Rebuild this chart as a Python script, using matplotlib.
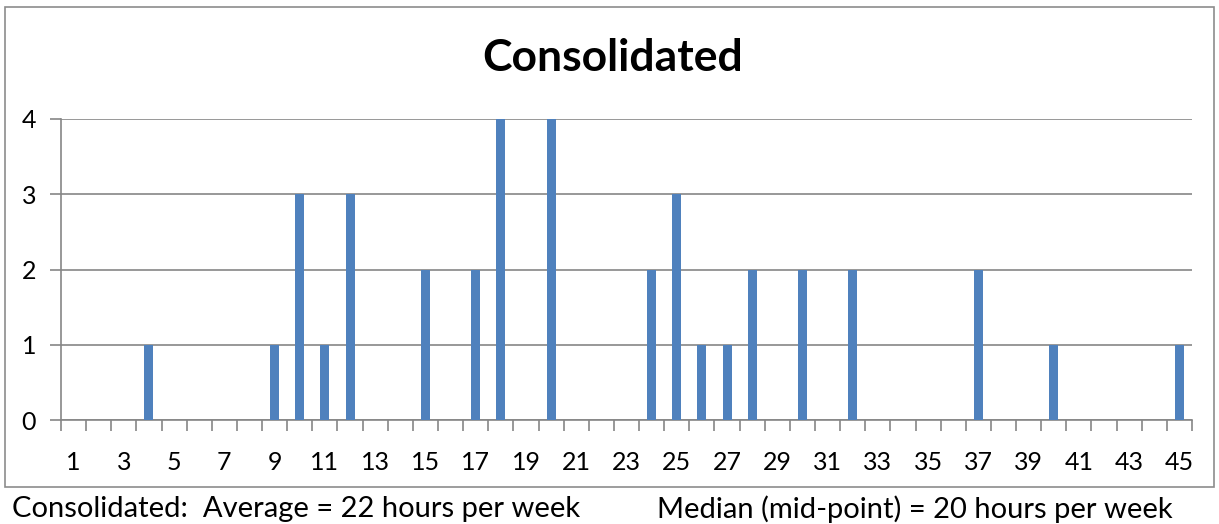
import matplotlib
matplotlib.use("Agg")
import matplotlib.pyplot as plt
from matplotlib.patches import Rectangle

categories = list(range(1, 46))
counts_map = {4: 1, 9: 1, 10: 3, 11: 1, 12: 3, 15: 2, 17: 2, 18: 4, 20: 4,
              24: 2, 25: 3, 26: 1, 27: 1, 28: 2, 30: 2, 32: 2, 37: 2, 40: 1, 45: 1}
values = [counts_map.get(c, 0) for c in categories]
tick_labels = [str(c) if c % 2 == 1 else "" for c in categories]
title = "Consolidated"
note_left = "Consolidated:  Average = 22 hours per week"
note_right = "Median (mid-point) = 20 hours per week"

plt.rcParams['font.family'] = ['Lato', 'DejaVu Sans']

W, H = 1219, 524
fig = plt.figure(figsize=(W / 100, H / 100), dpi=100)

# outer border of chart
fig.patches.append(Rectangle((5 / W, 1 - 487 / H), (1214 - 5) / W, (487 - 7) / H,
                             transform=fig.transFigure, fill=False,
                             edgecolor='#8c8c8c', linewidth=1.2))

x0, x1 = 61, 1192
ytop, ybot = 119, 420
ax = fig.add_axes([x0 / W, 1 - ybot / H, (x1 - x0) / W, (ybot - ytop) / H])
pos = list(range(len(categories)))
ax.bar(pos, values, width=0.36, color='#4F81BD', zorder=3)
ax.set_xlim(-0.5, len(categories) - 0.5)
ax.set_ylim(0, 4)
ax.set_yticks([0, 1, 2, 3, 4])
ax.set_xticks(pos)
ax.set_xticklabels(tick_labels, fontsize=18)
ax.tick_params(axis='x', length=0, pad=22)
ax.set_xticks([p - 0.5 for p in range(len(categories) + 1)], minor=True)
ax.tick_params(axis='x', which='minor', length=8, color='#868686', width=1.2)
ax.tick_params(axis='y', length=8, color='#868686', width=1.2, labelsize=18, pad=10)
ax.grid(axis='y', color='#868686', linewidth=1.2, zorder=0)
for s in ['top', 'right']:
    ax.spines[s].set_visible(False)
for s in ['left', 'bottom']:
    ax.spines[s].set_color('#868686')
    ax.spines[s].set_linewidth(1.2)

fig.text(613 / W, 1 - 58 / H, title, ha='center', va='center', fontsize=32, fontweight='bold')
fig.text(12 / W, 1 - 509 / H, note_left, ha='left', va='center', fontsize=21)
fig.text(657 / W, 1 - 509 / H, note_right, ha='left', va='center', fontsize=21)

fig.savefig("out.png", dpi=100)
